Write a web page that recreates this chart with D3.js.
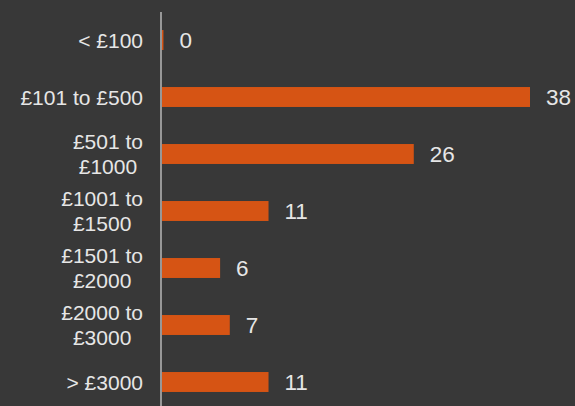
<!DOCTYPE html>
<html lang="en">
  <head>
    <meta charset="utf-8" />
    <script src="https://cdnjs.cloudflare.com/ajax/libs/d3/7.8.5/d3.min.js"></script>
    <style>
      html, body { margin: 0; padding: 0; background: #383838; }
      .cat { font-family: "Liberation Sans", Arial, sans-serif; font-size: 21px; fill: #e6e6e6; }
      .val { font-family: "Liberation Sans", Arial, sans-serif; font-size: 22.5px; fill: #e6e6e6; }
    </style>
  </head>
  <body>
    <script>
      const width = 575;
      const height = 406;

      // categories, the lines each label is broken into, and values
      const categories = ['< £100', '£101 to £500', '£501 to £1000', '£1001 to £1500', '£1501 to £2000', '£2000 to £3000', '> £3000'];
      const labelLines = [['< £100'], ['£101 to £500'], ['£501 to', '£1000'], ['£1001 to', '£1500'], ['£1501 to', '£2000'], ['£2000 to', '£3000'], ['> £3000']];
      const values = [0.15, 38, 26, 11, 6, 7, 11];
      const valueLabels = ['0', '38', '26', '11', '6', '7', '11'];

      const data = categories.map((c, i) => ({c, lines: labelLines[i], v: values[i], t: valueLabels[i]}));

      const svg = d3.select('body').append('svg')
        .attr('width', width)
        .attr('height', height)
        .attr('viewBox', [0, 0, width, height]);

      svg.append('rect').attr('width', width).attr('height', height).attr('fill', '#383838');

      const x = d3.scaleLinear()
        .domain([0, 38])
        .range([162, 530]);

      const y = d3.scaleBand()
        .domain(categories)
        .range([11.5, 410.5])
        .paddingInner(0.65)
        .paddingOuter(0.325);

      // bars
      svg.append('g')
        .selectAll('rect')
        .data(data)
        .join('rect')
        .attr('x', x(0))
        .attr('y', d => y(d.c))
        .attr('width', d => x(d.v) - x(0))
        .attr('height', y.bandwidth())
        .attr('fill', '#d65414');

      // axis line
      svg.append('line')
        .attr('x1', 161).attr('x2', 161)
        .attr('y1', 12).attr('y2', height)
        .attr('stroke', '#d9d9d9')
        .attr('stroke-width', 1.2);

      // category labels: block right-aligned to the axis, lines centred inside it
      const lh = 24.5;
      const labels = svg.append('g')
        .selectAll('g')
        .data(data)
        .join('g')
        .attr('transform', d => `translate(143,${y(d.c) + y.bandwidth() / 2 + 7.5 - (d.lines.length - 1) * lh / 2})`);

      labels.each(function(d) {
        const t = d3.select(this).append('text')
          .attr('class', 'cat')
          .attr('text-anchor', 'middle');
        const spans = t.selectAll('tspan')
          .data(d.lines)
          .join('tspan')
          .attr('dy', (s, i) => i === 0 ? 0 : lh)
          .text(s => s);
        const maxW = d3.max(spans.nodes(), n => n.getComputedTextLength());
        spans.attr('x', -maxW / 2);
      });

      // value labels
      svg.append('g')
        .selectAll('text')
        .data(data)
        .join('text')
        .attr('class', 'val')
        .attr('x', d => x(d.v) + 16)
        .attr('y', d => y(d.c) + y.bandwidth() / 2 + 8)
        .text(d => d.t);
    </script>
  </body>
</html>
